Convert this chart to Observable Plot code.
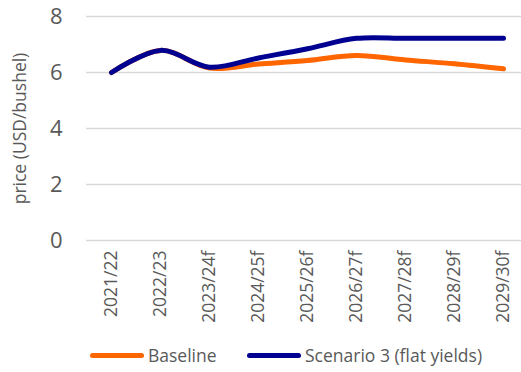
<!DOCTYPE html>
<html>
<head>
<meta charset="utf-8">
<script src="https://cdn.jsdelivr.net/npm/d3@7"></script>
<script src="https://cdn.jsdelivr.net/npm/@observablehq/plot@0.6"></script>
<style>
  body { margin: 0; background: #fff; font-family: "Open Sans", sans-serif; }
  #chart { width: 521px; height: 372px; position: relative; }
  .legend { position: absolute; top: 342px; left: 0; width: 521px; height: 26px; font-size: 17.5px; color: #595959; }
  .legend .sw { position: absolute; top: 11px; height: 5px; border-radius: 3px; }
  .legend .lb { position: absolute; top: 0; line-height: 26px; }
</style>
</head>
<body>
<div id="chart"></div>
<script>
const categories = ["2021/22","2022/23","2023/24f","2024/25f","2025/26f","2026/27f","2027/28f","2028/29f","2029/30f"];
const baseline = [6.0, 6.79, 6.16, 6.3, 6.43, 6.61, 6.45, 6.31, 6.13];
const scenario3 = [6.0, 6.79, 6.19, 6.52, 6.85, 7.22, 7.22, 7.22, 7.22];
const seriesNames = ["Baseline", "Scenario 3 (flat yields)"];
const seriesColors = ["#FF6600", "#000091"];
const yTicks = [0, 2, 4, 6, 8];
const yLabel = "price (USD/bushel)";

const data = [];
categories.forEach((c, i) => {
  data.push({cat: c, value: baseline[i], series: seriesNames[0]});
  data.push({cat: c, value: scenario3[i], series: seriesNames[1]});
});

const plot = Plot.plot({
  width: 521,
  height: 340,
  marginLeft: 86,
  marginRight: 0,
  marginTop: 16,
  marginBottom: 100,
  style: {fontFamily: "Open Sans, sans-serif", color: "#595959", overflow: "visible"},
  x: {type: "point", domain: categories, range: [110, 503], padding: 0},
  y: {domain: [0, 8], ticks: yTicks},
  color: {domain: seriesNames, range: seriesColors},
  marks: [
    Plot.gridY(yTicks, {stroke: "#d9d9d9", strokeOpacity: 1, strokeWidth: 1.5}),
    Plot.axisY(yTicks, {tickSize: 0, tickPadding: 24, fontSize: 22, label: null, fill: "#595959"}),
    Plot.text([yLabel], {frameAnchor: "left", textAnchor: "middle", dx: -66, rotate: -90, fontSize: 17.5, fill: "#595959", text: d => d}),
    Plot.axisX({tickSize: 0, tickRotate: -90, tickPadding: 10, fontSize: 17.5, label: null, fill: "#595959"}),
    Plot.line(data.filter(d => d.series === seriesNames[0]), {x: "cat", y: "value", stroke: "series", strokeWidth: 5, curve: "catmull-rom"}),
    Plot.line(data.filter(d => d.series === seriesNames[1]), {x: "cat", y: "value", stroke: "series", strokeWidth: 5, curve: "catmull-rom"})
  ]
});
const chart = document.getElementById("chart");
chart.appendChild(plot);

const legend = document.createElement("div");
legend.className = "legend";
const pos = [[90, 148], [247, 305]];
seriesNames.forEach((n, i) => {
  const sw = document.createElement("div");
  sw.className = "sw";
  sw.style.left = pos[i][0] + "px";
  sw.style.width = "54px";
  sw.style.background = seriesColors[i];
  legend.appendChild(sw);
  const lb = document.createElement("div");
  lb.className = "lb";
  lb.style.left = pos[i][1] + "px";
  lb.textContent = n;
  legend.appendChild(lb);
});
chart.appendChild(legend);
</script>
</body>
</html>
